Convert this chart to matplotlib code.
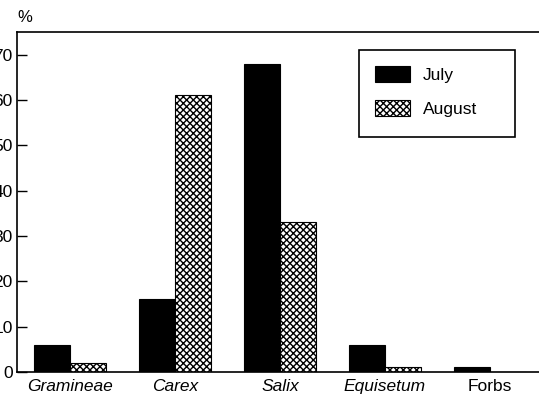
import matplotlib
matplotlib.use("Agg")
import matplotlib.pyplot as plt
from matplotlib.patches import Rectangle
import numpy as np

categories = ["Gramineae", "Carex", "Salix", "Equisetum", "Forbs"]
italic = [True, True, True, True, False]
july = [6, 16, 68, 6, 1]
august = [2, 61, 33, 1, 0]
yticks = [0, 10, 20, 30, 40, 50, 60, 70]

plt.rcParams['font.family'] = ['Liberation Sans', 'DejaVu Sans']
plt.rcParams['hatch.linewidth'] = 1.0

W, H = 539, 400
fig = plt.figure(figsize=(W/100, H/100), dpi=100)
ax = fig.add_axes([17/W, 28/H, 522/W, 340/H])

x = np.arange(len(categories))
w = 36/105
ax.bar(x - w/2, july, width=w, color='black', edgecolor='black', linewidth=0.8, label='July')
ax.bar(x + w/2, august, width=w, color='white', edgecolor='black', hatch='xxxxx', linewidth=0.8, label='August')

ax.set_xlim(-0.505, 4.467)
ax.set_ylim(0, 75)
ax.set_yticks(yticks)
ax.set_yticklabels([str(v) for v in yticks], fontsize=12.5)
ax.tick_params(axis='y', direction='in', length=7, width=1, pad=3)
ax.set_xticks(x)
ax.set_xticklabels(categories, fontsize=12.5)
for lbl, it in zip(ax.get_xticklabels(), italic):
    lbl.set_style('italic' if it else 'normal')
ax.tick_params(axis='x', length=0, pad=5)
ax.spines['right'].set_visible(False)
for s in ['left', 'bottom', 'top']:
    ax.spines[s].set_linewidth(1.2)

fig.text(17/W, 1 - 17/H, '%', fontsize=12, ha='left', va='center')

leg = ax.legend(loc='upper left', bbox_to_anchor=(375/W, 1 - 66/H),
                bbox_transform=fig.transFigure, fontsize=12.5, frameon=False,
                handlelength=2.0, handleheight=1.0,
                labelspacing=1.0, borderpad=0.0, handletextpad=0.75,
                borderaxespad=0)
fig.patches.append(Rectangle((359/W, 1 - 137/H), 156/W, 87/H,
                             transform=fig.transFigure, fill=False,
                             edgecolor='black', linewidth=1.2, zorder=5))

fig.savefig("out.png", dpi=100)
